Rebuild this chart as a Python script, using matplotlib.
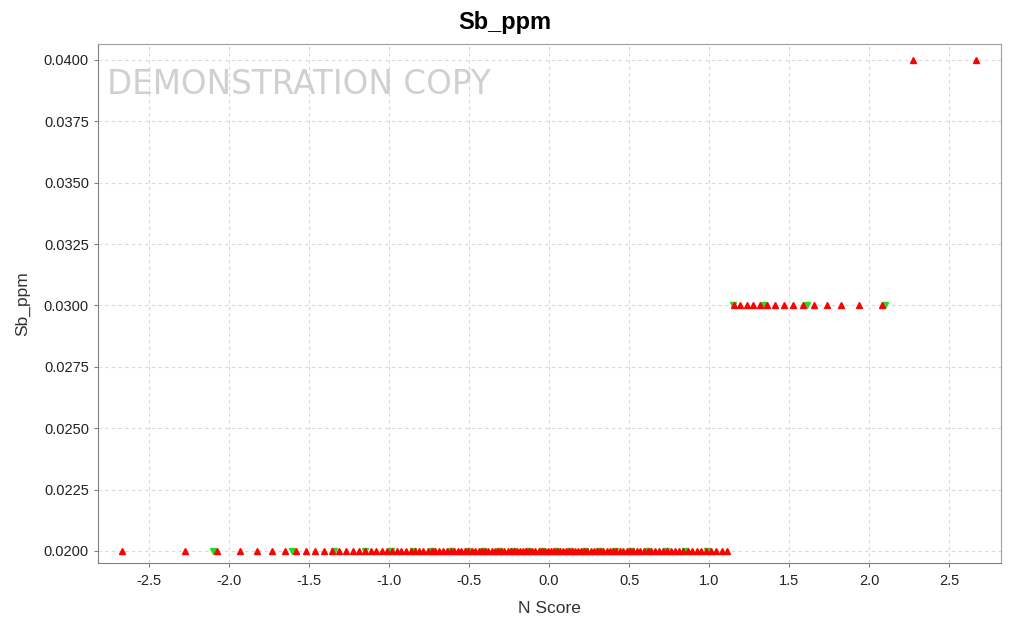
import matplotlib
matplotlib.use("Agg")
import matplotlib.pyplot as plt
from matplotlib.ticker import FormatStrFormatter, MultipleLocator

# normal scores for the full sample (132 values), sorted ascending
red_x = [
    -2.669, -2.277, -2.076, -1.934, -1.824, -1.732, -1.652, -1.582, -1.519, -1.461,
    -1.408, -1.359, -1.312, -1.269, -1.227, -1.188, -1.150, -1.114, -1.079, -1.046,
    -1.014, -0.983, -0.952, -0.923, -0.894, -0.866, -0.839, -0.812, -0.786, -0.760,
    -0.735, -0.711, -0.686, -0.663, -0.639, -0.616, -0.593, -0.571, -0.549, -0.527,
    -0.505, -0.484, -0.462, -0.441, -0.420, -0.400, -0.380, -0.359, -0.339, -0.319,
    -0.299, -0.279, -0.259, -0.240, -0.220, -0.201, -0.182, -0.162, -0.143, -0.124,
    -0.105, -0.086, -0.066, -0.047, -0.028, -0.009,
    0.009, 0.028, 0.047, 0.066, 0.086, 0.105, 0.124, 0.143, 0.162, 0.182,
    0.201, 0.220, 0.240, 0.259, 0.279, 0.299, 0.319, 0.339, 0.359, 0.380,
    0.400, 0.420, 0.441, 0.462, 0.484, 0.505, 0.527, 0.549, 0.571, 0.593,
    0.616, 0.639, 0.663, 0.686, 0.711, 0.735, 0.760, 0.786, 0.812, 0.839,
    0.866, 0.894, 0.923, 0.952, 0.983, 1.014, 1.046, 1.079, 1.114,
    1.155, 1.195, 1.235, 1.275, 1.320, 1.365, 1.413, 1.466, 1.524, 1.586,
    1.656, 1.735, 1.827, 1.937, 2.078,
    2.277, 2.669,
]
red_y = [0.02] * 115 + [0.03] * 15 + [0.04] * 2

# second, smaller sample (28 values)
green_x = [
    -2.100, -1.610, -1.345, -1.150, -0.990, -0.850, -0.730, -0.615, -0.510, -0.412,
    -0.315, -0.225, -0.133, -0.045, 0.045, 0.133, 0.225, 0.315, 0.412, 0.510,
    0.615, 0.730, 0.850, 0.990, 1.150, 1.345, 1.610, 2.100,
]
green_y = [0.02] * 24 + [0.03] * 4

x_ticks = [-2.5, -2.0, -1.5, -1.0, -0.5, 0.0, 0.5, 1.0, 1.5, 2.0, 2.5]

plt.rcParams['font.family'] = ['Liberation Sans', 'DejaVu Sans']

fig = plt.figure(figsize=(10.1, 6.21), dpi=100)
ax = fig.add_axes([98 / 1010, 1 - 563 / 621, 903 / 1010, 519 / 621])

ax.plot(green_x, green_y, linestyle='none', marker='v', markersize=5,
        color='#22dd22', zorder=3)
ax.plot(red_x, red_y, linestyle='none', marker='^', markersize=5,
        color='#ff0000', zorder=4)

ax.set_xlim(-2.82, 2.825)
ax.set_ylim(0.01951, 0.04065)
ax.set_xticks(x_ticks)
ax.xaxis.set_major_formatter(FormatStrFormatter('%.1f'))
ax.yaxis.set_major_locator(MultipleLocator(0.0025))
ax.yaxis.set_major_formatter(FormatStrFormatter('%.4f'))

ax.grid(True, linestyle=(0, (3, 3)), color='#d8d8d8', linewidth=0.8)
ax.set_axisbelow(True)
for s in ax.spines.values():
    s.set_color('#a0a0a0')
ax.spines['left'].set_color('#808080')
ax.spines['bottom'].set_color('#808080')
ax.tick_params(colors='#808080', labelcolor='#222222', labelsize=10.5,
               length=3, width=0.8)
ax.tick_params(axis='x', pad=5)

ax.set_xlabel('N Score', fontsize=12.5, color='#333333', labelpad=9)
ax.set_ylabel('Sb_ppm', fontsize=12.5, color='#333333', labelpad=10)
fig.suptitle('Sb_ppm', x=0.5, y=1 - 22 / 621, va='center',
             fontsize=17, fontweight='bold')

fig.text(107 / 1010, 1 - 94 / 621, 'DEMONSTRATION COPY', fontsize=23.5,
         color='#d0d0d0', family='DejaVu Sans', va='baseline', zorder=1)

fig.savefig('out.png', dpi=100)
